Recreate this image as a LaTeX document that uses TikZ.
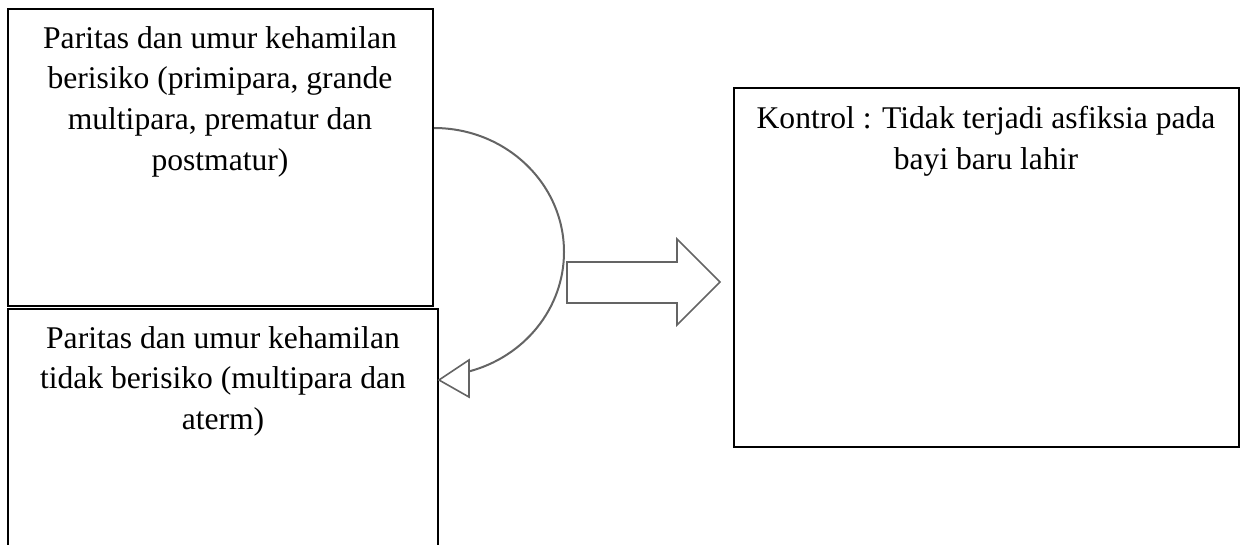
\documentclass[tikz,border=0pt]{standalone}
\usepackage{fontspec}
\setmainfont{Liberation Serif}
\usetikzlibrary{fit}
\definecolor{linegray}{RGB}{100,100,100}
\begin{document}
\begin{tikzpicture}[x=0.75pt,y=0.75pt,
  box/.style={draw=black, line width=1.5pt, inner sep=0pt},
  lbl/.style={align=center, inner sep=0pt, anchor=north, font=\fontsize{23.7}{30.5}\selectfont},
  conn/.style={draw=linegray, line width=1.5pt},
  hollow/.style={draw=linegray, fill=white, line width=1.2pt, line join=miter},
]
\useasboundingbox (0,0) rectangle (1246,-544);
% boxes
\node[box, fit={(8,-9) (433,-306)}] (b1) {};
\node[box, fit={(8,-309) (438,-580)}] (b2) {};
\node[box, fit={(734,-88) (1239,-447)}] (b3) {};
% texts
\node[lbl] (t1) at (220,-26) {Paritas dan umur kehamilan\\berisiko (primipara, grande\\multipara, prematur dan\\postmatur)};
\node[lbl] (t2) at (223,-326) {Paritas dan umur kehamilan\\tidak berisiko (multipara dan\\aterm)};
\node[lbl] (t3) at (986,-106) {Kontrol : Tidak terjadi asfiksia pada\\bayi baru lahir};
% curved connector
\coordinate (cs) at (b1.east |- 0,-128);
\coordinate (tip) at (b2.east |- 0,-380);
\draw[conn] (cs) arc[start angle=90, end angle=-75, x radius=130, y radius=124] coordinate (ce);
\draw[hollow] (tip) -- (469,-360) -- (469,-397) -- cycle;
% block arrow
\draw[hollow] (567,-262) -- (677,-262) -- (677,-239) -- (720,-282) -- (677,-325) -- (677,-303) -- (567,-303) -- cycle;
\end{tikzpicture}
\end{document}
